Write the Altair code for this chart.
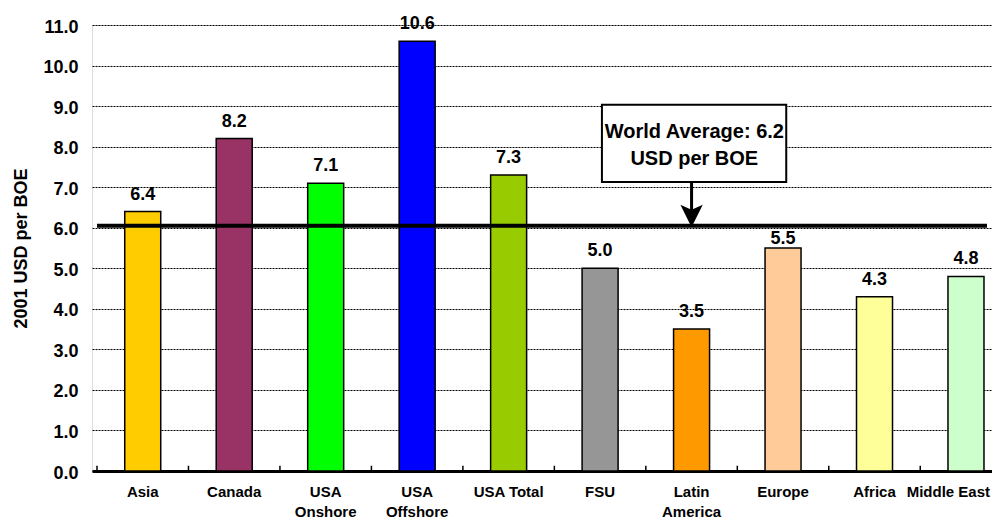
import altair as alt
import pandas as pd

categories = ["Asia", "Canada", "USA\nOnshore", "USA\nOffshore", "USA Total",
              "FSU", "Latin\nAmerica", "Europe", "Africa", "Middle East"]
values = [6.4, 8.2, 7.1, 10.6, 7.3, 5.0, 3.5, 5.5, 4.3, 4.8]
colors = ["#FFCC00", "#993366", "#00FF00", "#0000FF", "#99CC00",
          "#969696", "#FF9900", "#FFCC99", "#FFFF99", "#CCFFCC"]
y_ticks = [0, 1, 2, 3, 4, 5, 6, 7, 8, 9, 10, 11]
world_line = 6.05
annotation_lines = ["World Average: 6.2", "USD per BOE"]

FONT = "Liberation Sans"
PLOT_W = 900
X_MAX = PLOT_W / 92.5
N = len(categories)
LOW_LABEL = categories.index("Europe")  # label tucked just under the average line

bars = pd.DataFrame({
    "idx": list(range(N)),
    "label": categories,
    "value": values,
    "color": colors,
    "xc": [i + 0.5 for i in range(N)],
})
bounds = pd.DataFrame({"b": list(range(N + 1)), "y0": 0.0, "y1": 0.13})

xs = alt.Scale(domain=[0, X_MAX], nice=False, zero=False)
ys = alt.Scale(domain=[0, 11], nice=False)

base = alt.Chart(bars)

bar_layer = base.mark_bar(size=36, stroke="black", strokeWidth=1.5).encode(
    x=alt.X("xc:Q", scale=xs,
            axis=alt.Axis(title=None, labels=False, ticks=False, grid=False,
                          domainColor="black", domainWidth=3)),
    y=alt.Y("value:Q", scale=ys,
            axis=alt.Axis(values=y_ticks, format=".1f", title="2001 USD per BOE",
                          domain=False, ticks=False, grid=True, gridColor="black",
                          gridDash=[2, 1], gridWidth=1, labelFont=FONT,
                          labelFontSize=18, labelFontWeight="bold", labelColor="black",
                          labelPadding=14, labelOffset=2, titleFont=FONT, titleFontSize=18,
                          titleFontWeight="bold", titleColor="black", titlePadding=12)),
    color=alt.Color("color:N", scale=None),
)

value_labels = base.transform_filter(alt.datum.idx != LOW_LABEL).mark_text(
    font=FONT, fontSize=18, fontWeight="bold", baseline="alphabetic", dy=-12,
    color="black").encode(
    x=alt.X("xc:Q", scale=xs), y=alt.Y("value:Q", scale=ys),
    text=alt.Text("value:Q", format=".1f"))

value_label_low = base.transform_filter(alt.datum.idx == LOW_LABEL).mark_text(
    font=FONT, fontSize=18, fontWeight="bold", baseline="alphabetic", dy=-4,
    color="black").encode(
    x=alt.X("xc:Q", scale=xs), y=alt.Y("value:Q", scale=ys),
    text=alt.Text("value:Q", format=".1f"))

cat_labels = base.transform_filter(alt.datum.idx < N - 1).mark_text(
    font=FONT, fontSize=15, fontWeight="bold", baseline="alphabetic",
    lineBreak="\n", lineHeight=20, color="black").encode(
    x=alt.X("xc:Q", scale=xs), y=alt.value(472), text="label:N")

last_label = base.transform_filter(alt.datum.idx == N - 1).mark_text(
    font=FONT, fontSize=15, fontWeight="bold", baseline="alphabetic",
    align="right", color="black").encode(
    x=alt.value(PLOT_W - 2), y=alt.value(472), text="label:N")

ticks = alt.Chart(bounds).mark_rule(color="black", strokeWidth=1.5).encode(
    x=alt.X("b:Q", scale=xs), y=alt.Y("y0:Q", scale=ys), y2="y1:Q")

avg_line = alt.Chart(pd.DataFrame({"y": [world_line], "x0": [0.0], "x1": [X_MAX]})).mark_rule(
    color="black", strokeWidth=4).encode(
    y=alt.Y("y:Q", scale=ys), x=alt.X("x0:Q", scale=xs), x2="x1:Q")

box = alt.Chart(pd.DataFrame({"x0": [5.52], "x1": [7.535], "y0": [9.03], "y1": [7.13]})).mark_rect(
    fill="white", stroke="black", strokeWidth=2).encode(
    x=alt.X("x0:Q", scale=xs), x2="x1:Q", y=alt.Y("y0:Q", scale=ys), y2="y1:Q")

box_text = alt.Chart(pd.DataFrame({"t": annotation_lines, "x": [6.53, 6.53], "y": [8.36, 7.69]})).mark_text(
    font=FONT, fontSize=20, fontWeight="bold", baseline="middle", color="black").encode(
    x=alt.X("x:Q", scale=xs), y=alt.Y("y:Q", scale=ys), text="t:N")

shaft = alt.Chart(pd.DataFrame({"x": [6.5], "y0": [7.13], "y1": [6.4]})).mark_rule(
    color="black", strokeWidth=3).encode(
    x=alt.X("x:Q", scale=xs), y=alt.Y("y0:Q", scale=ys), y2="y1:Q")

head = alt.Chart(pd.DataFrame({"x": [6.5], "y": [6.29]})).mark_point(
    shape="M-1,-1L0,-0.55L1,-1L0,1Z", size=500, filled=True, fill="black",
    color="black", opacity=1, strokeWidth=0).encode(
    x=alt.X("x:Q", scale=xs), y=alt.Y("y:Q", scale=ys))

chart = alt.layer(bar_layer, avg_line, ticks, value_labels, value_label_low, cat_labels,
                  last_label, box, box_text, shaft, head).properties(
    width=PLOT_W, height=446,
    autosize=alt.AutoSizeParams(type="none"),
    padding={"left": 84, "top": 17, "right": 0, "bottom": 50},
).configure_view(stroke=None).configure(background="white")

chart.save("out.html", embed_options={"renderer": "svg", "actions": False})
